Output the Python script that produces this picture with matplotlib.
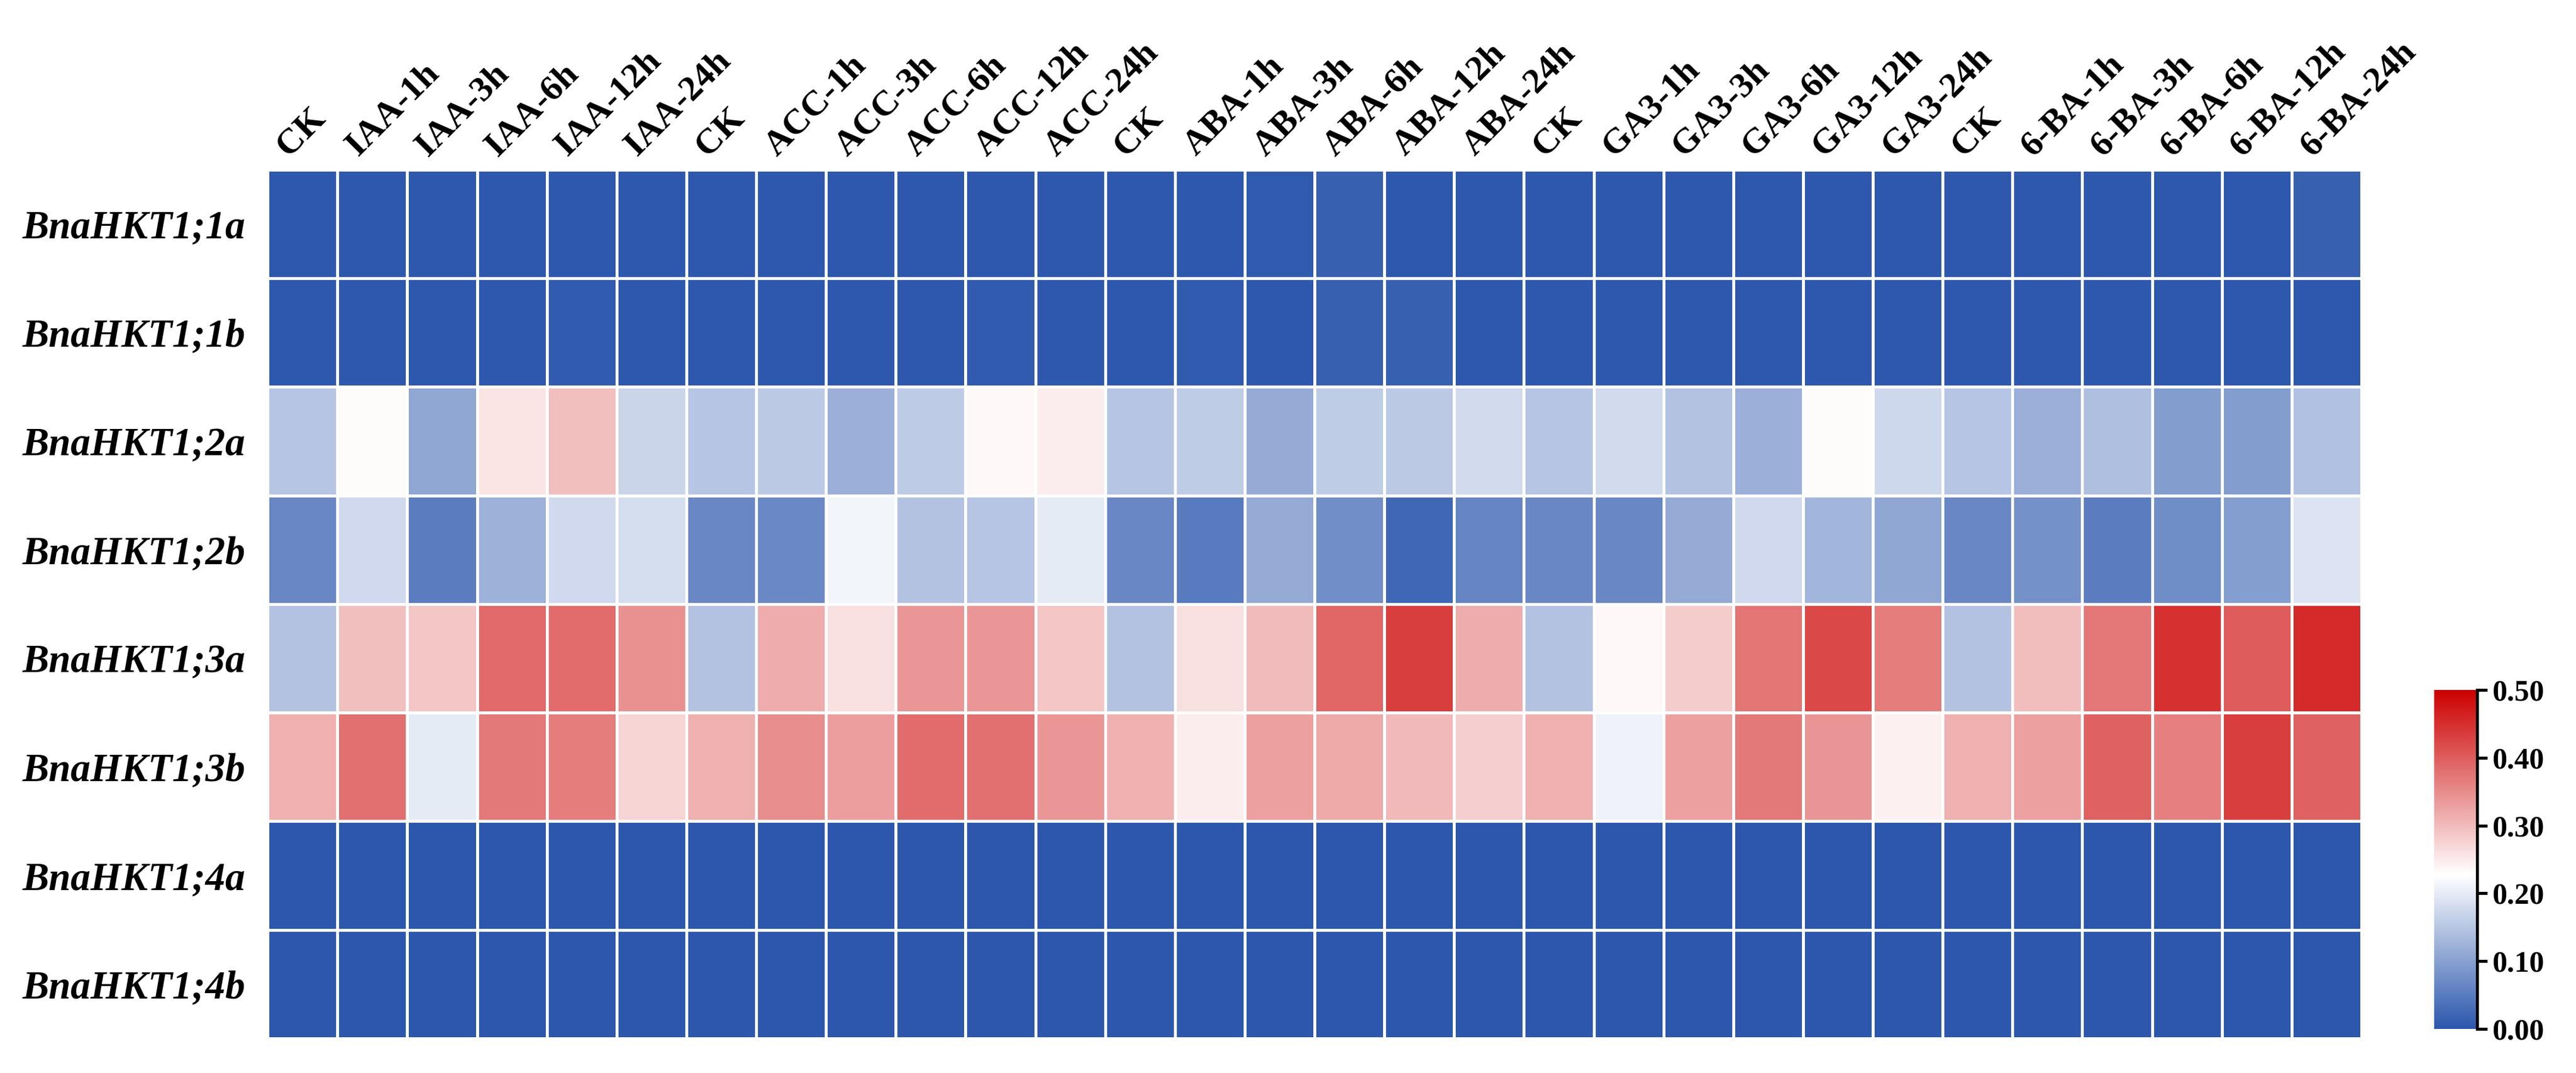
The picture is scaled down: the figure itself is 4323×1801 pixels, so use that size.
import numpy as np
import matplotlib
matplotlib.use('Agg')
import matplotlib.pyplot as plt
from matplotlib.colors import LinearSegmentedColormap
from matplotlib.transforms import ScaledTranslation

# ===================== 数据 =====================
conditions = ['CK', 'IAA-1h', 'IAA-3h', 'IAA-6h', 'IAA-12h', 'IAA-24h',
              'CK', 'ACC-1h', 'ACC-3h', 'ACC-6h', 'ACC-12h', 'ACC-24h',
              'CK', 'ABA-1h', 'ABA-3h', 'ABA-6h', 'ABA-12h', 'ABA-24h',
              'CK', 'GA3-1h', 'GA3-3h', 'GA3-6h', 'GA3-12h', 'GA3-24h',
              'CK', '6-BA-1h', '6-BA-3h', '6-BA-6h', '6-BA-12h', '6-BA-24h']
genes = ['BnaHKT1;1a', 'BnaHKT1;1b', 'BnaHKT1;2a', 'BnaHKT1;2b',
         'BnaHKT1;3a', 'BnaHKT1;3b', 'BnaHKT1;4a', 'BnaHKT1;4b']

hkt1_1a = [0.003, 0.003, 0.003, 0.003, 0.003, 0.003, 0.003, 0.003, 0.003, 0.003,
           0.003, 0.003, 0.003, 0.003, 0.005, 0.012, 0.003, 0.003, 0.003, 0.003,
           0.003, 0.003, 0.003, 0.003, 0.003, 0.003, 0.003, 0.003, 0.003, 0.012]
hkt1_1b = [0.003, 0.003, 0.003, 0.003, 0.006, 0.003, 0.003, 0.003, 0.003, 0.003,
           0.006, 0.003, 0.003, 0.006, 0.003, 0.013, 0.013, 0.003, 0.003, 0.003,
           0.003, 0.003, 0.003, 0.003, 0.003, 0.003, 0.003, 0.003, 0.003, 0.003]
hkt1_2a = [0.149, 0.232, 0.109, 0.256, 0.295, 0.170, 0.149, 0.155, 0.121, 0.157,
           0.235, 0.248, 0.149, 0.159, 0.114, 0.160, 0.155, 0.179, 0.149, 0.179,
           0.146, 0.120, 0.232, 0.174, 0.149, 0.121, 0.141, 0.095, 0.094, 0.143]
hkt1_2b = [0.066, 0.177, 0.052, 0.122, 0.177, 0.182, 0.066, 0.067, 0.213, 0.146,
           0.149, 0.200, 0.066, 0.047, 0.113, 0.075, 0.023, 0.064, 0.066, 0.066,
           0.113, 0.177, 0.128, 0.108, 0.066, 0.080, 0.051, 0.074, 0.096, 0.190]
hkt1_3a = [0.146, 0.295, 0.289, 0.387, 0.383, 0.344, 0.146, 0.315, 0.260, 0.338,
           0.338, 0.289, 0.146, 0.260, 0.299, 0.390, 0.432, 0.315, 0.146, 0.235,
           0.282, 0.374, 0.423, 0.366, 0.146, 0.297, 0.373, 0.448, 0.402, 0.455]
hkt1_3b = [0.311, 0.380, 0.200, 0.371, 0.366, 0.272, 0.311, 0.349, 0.331, 0.383,
           0.379, 0.338, 0.311, 0.248, 0.329, 0.320, 0.302, 0.278, 0.311, 0.209,
           0.329, 0.370, 0.340, 0.244, 0.311, 0.330, 0.396, 0.363, 0.432, 0.395]
hkt1_4a = [0.001] * 30
hkt1_4b = [0.001] * 30

cbar_ticks = [0.00, 0.10, 0.20, 0.30, 0.40, 0.50]

# ===================== 绘图 =====================
values = np.array([hkt1_1a, hkt1_1b, hkt1_2a, hkt1_2b,
                   hkt1_3a, hkt1_3b, hkt1_4a, hkt1_4b])

cmap = LinearSegmentedColormap.from_list(
    'bwr_custom', [(0.0, '#2C57AD'), (0.455, '#FFFFFF'), (1.0, '#CC0000')])

fig = plt.figure(figsize=(4323 / 300, 1801 / 300), dpi=300)
ax = fig.add_axes([0.1039, 0.0322, 0.8128, 0.8096])
mesh = ax.pcolormesh(values, cmap=cmap, vmin=0, vmax=0.5,
                     edgecolors='white', linewidth=0.8)
ax.set_xlim(0, values.shape[1])
ax.set_ylim(values.shape[0], 0)
for s in ax.spines.values():
    s.set_visible(False)

ax.xaxis.tick_top()
ax.set_xticks(np.arange(len(conditions)) + 0.5)
ax.set_xticklabels(conditions, rotation=45, ha='left', rotation_mode='anchor',
                   fontsize=14.5, fontweight='bold', family='Liberation Serif')
ax.set_yticks(np.arange(len(genes)) + 0.5)
ax.set_yticklabels(genes, fontsize=16, fontweight='bold', fontstyle='italic',
                   family='Liberation Serif')
ax.tick_params(axis='x', length=0, pad=3)
ax.tick_params(axis='y', length=0, pad=9)
shift = ScaledTranslation(-3.6 / 72, 0, fig.dpi_scale_trans)
for lab in ax.get_xticklabels():
    lab.set_transform(lab.get_transform() + shift)

# 色条
cax = fig.add_axes([0.945, 0.0411, 0.0167, 0.316])
cbar = fig.colorbar(mesh, cax=cax, ticks=cbar_ticks)
cbar.outline.set_visible(False)
cax.plot([1, 1], [0, 1], transform=cax.transAxes, color='black', lw=1.2,
         clip_on=False)
cax.tick_params(length=4, width=1.2, pad=2)
cax.set_yticklabels([f'{t:.2f}' for t in cbar_ticks], fontsize=12,
                    fontweight='bold', family='Liberation Serif')

fig.savefig('out.png', dpi=300)
